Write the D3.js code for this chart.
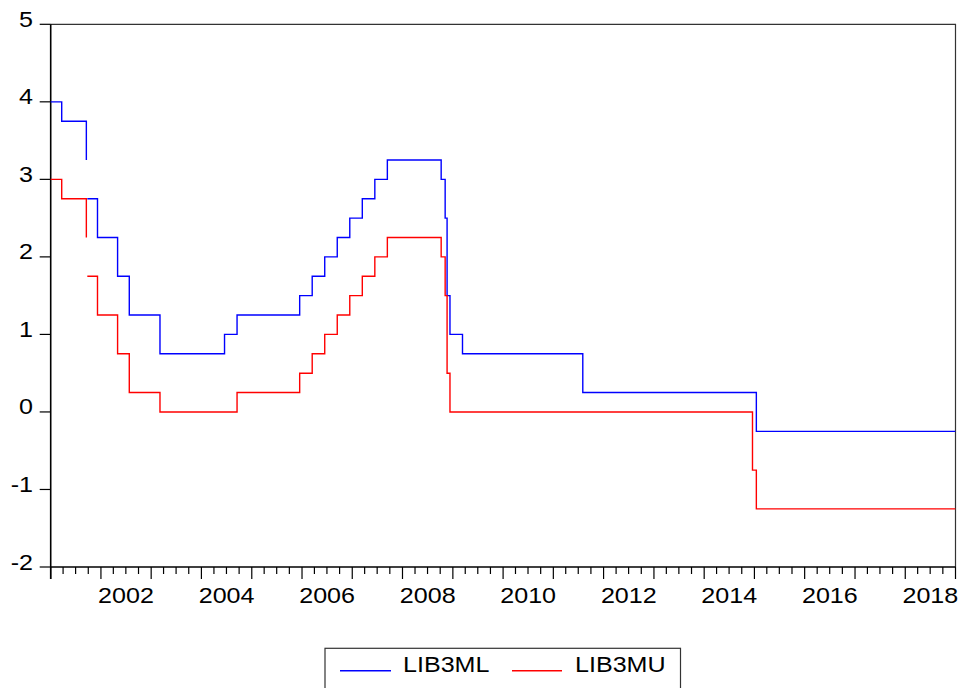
<!DOCTYPE html>
<html lang="en">
<head>
    <meta charset="UTF-8">
    <title>LIB3ML / LIB3MU</title>
    <script src="https://cdn.jsdelivr.net/npm/d3@7/dist/d3.min.js"></script>
    <style>
        body { margin: 0; background: #fff; }
        text { font-family: "Liberation Sans", Arial, sans-serif; font-size: 22px; fill: #000; }
    </style>
</head>
<body>
    <script>
    // 1. data: dates where the target range changed (null = missing)
    var changeDates = [
        "2001-01-01", "2001-03-22", "2001-09-17", "2001-09-18", "2001-09-24",
        "2001-12-07", "2002-05-02", "2002-07-26", "2003-03-06", "2004-06-17",
        "2004-09-16", "2005-12-15", "2006-03-16", "2006-06-15", "2006-09-14",
        "2006-12-14", "2007-03-15", "2007-06-14", "2007-09-13", "2008-10-08",
        "2008-11-06", "2008-11-20", "2008-12-11", "2009-03-12", "2011-08-03",
        "2014-12-18", "2015-01-15", "2018-12-31"
    ];
    var lib3ml = [
        4.00, 3.75, 3.25, null, 2.75,
        2.25, 1.75, 1.25, 0.75, 1.00,
        1.25, 1.50, 1.75, 2.00, 2.25,
        2.50, 2.75, 3.00, 3.25, 3.00,
        2.50, 1.50, 1.00, 0.75, 0.25,
        0.25, -0.25, -0.25
    ];
    var lib3mu = [
        3.00, 2.75, 2.25, null, 1.75,
        1.25, 0.75, 0.25, 0.00, 0.00,
        0.25, 0.50, 0.75, 1.00, 1.25,
        1.50, 1.75, 2.00, 2.25, 2.00,
        1.50, 0.50, 0.00, 0.00, 0.00,
        -0.75, -1.25, -1.25
    ];
    var yTicks = [-2, -1, 0, 1, 2, 3, 4, 5];
    var xLabels = [2002, 2004, 2006, 2008, 2010, 2012, 2014, 2016, 2018];
    var seriesNames = ["LIB3ML", "LIB3MU"];
    var seriesColors = ["#0000ff", "#ff0000"];

    var width = 959, height = 688;
    var plotLeft = 50.7, plotRight = 955.5, plotTop = 24.3, plotBottom = 567;
    var stretch = 1.14; // text is drawn a bit wide in the original

    var parse = d3.utcParse("%Y-%m-%d");

    // 2. svg
    var svg = d3.select("body").append("svg")
        .attr("width", width).attr("height", height);

    // 3. scales
    var x = d3.scaleUtc()
        .domain([new Date(Date.UTC(2001, 0, 1)), new Date(Date.UTC(2019, 0, 1))])
        .range([plotLeft, plotRight]);
    var y = d3.scaleLinear()
        .domain([-2, 5])
        .range([plotBottom, plotTop]);

    function label(g, tx, ty, str, anchor) {
        g.append("text")
            .attr("transform", "translate(" + tx + "," + ty + ") scale(" + stretch + ",1)")
            .attr("text-anchor", anchor)
            .text(str);
    }

    // 4. frame (top + right)
    svg.append("path")
        .attr("d", "M" + plotLeft + "," + plotTop + "H" + plotRight + "V" + plotBottom)
        .attr("fill", "none").attr("stroke", "#333").attr("stroke-width", 1.2);

    // 5. y axis
    var gy = svg.append("g");
    gy.append("line")
        .attr("x1", plotLeft).attr("x2", plotLeft).attr("y1", plotTop).attr("y2", plotBottom + 12)
        .attr("stroke", "#000").attr("stroke-width", 1.6);
    gy.selectAll(".yt").data(yTicks).enter().append("line")
        .attr("x1", plotLeft - 11).attr("x2", plotLeft)
        .attr("y1", function(d) { return y(d); }).attr("y2", function(d) { return y(d); })
        .attr("stroke", "#000").attr("stroke-width", 1.2);
    yTicks.forEach(function(d) { label(gy, 33, y(d) + 2.5, d, "end"); });

    // 6. x axis
    var gx = svg.append("g");
    gx.append("line")
        .attr("x1", plotLeft).attr("x2", plotRight).attr("y1", plotBottom).attr("y2", plotBottom)
        .attr("stroke", "#000").attr("stroke-width", 1.6);
    var minor = d3.utcMonth.every(3).range(x.domain()[0], x.domain()[1]);
    gx.selectAll(".xt").data(minor.concat([x.domain()[1]])).enter().append("line")
        .attr("x1", function(d) { return x(d); }).attr("x2", function(d) { return x(d); })
        .attr("y1", plotBottom)
        .attr("y2", function(d) { return d.getUTCMonth() === 0 ? plotBottom + 12 : plotBottom + 7; })
        .attr("stroke", "#000").attr("stroke-width", 1.2);
    xLabels.forEach(function(yr) {
        label(gx, x(new Date(Date.UTC(yr, 6, 2))), 603, yr, "middle");
    });

    // 7. step lines
    var series = [lib3ml, lib3mu].map(function(vals) {
        return changeDates.map(function(d, i) { return { date: parse(d), v: vals[i] }; });
    });
    var line = d3.line()
        .defined(function(d) { return d.v != null; })
        .x(function(d) { return x(d.date); })
        .y(function(d) { return y(d.v); })
        .curve(d3.curveStepAfter);
    svg.selectAll(".series").data(series).enter().append("path")
        .attr("d", line)
        .attr("fill", "none")
        .attr("stroke", function(d, i) { return seriesColors[i]; })
        .attr("stroke-width", 1.4);

    // 8. legend
    var lg = svg.append("g");
    lg.append("rect")
        .attr("x", 325).attr("y", 648.3).attr("width", 355.5).attr("height", 60)
        .attr("fill", "none").attr("stroke", "#333").attr("stroke-width", 1.2);
    var lx = [[340, 391, 403], [512, 562, 575]];
    seriesNames.forEach(function(name, i) {
        lg.append("line")
            .attr("x1", lx[i][0]).attr("x2", lx[i][1]).attr("y1", 670.7).attr("y2", 670.7)
            .attr("stroke", seriesColors[i]).attr("stroke-width", 1.6);
        label(lg, lx[i][2], 672.3, name, "start");
    });
    </script>
</body>
</html>
